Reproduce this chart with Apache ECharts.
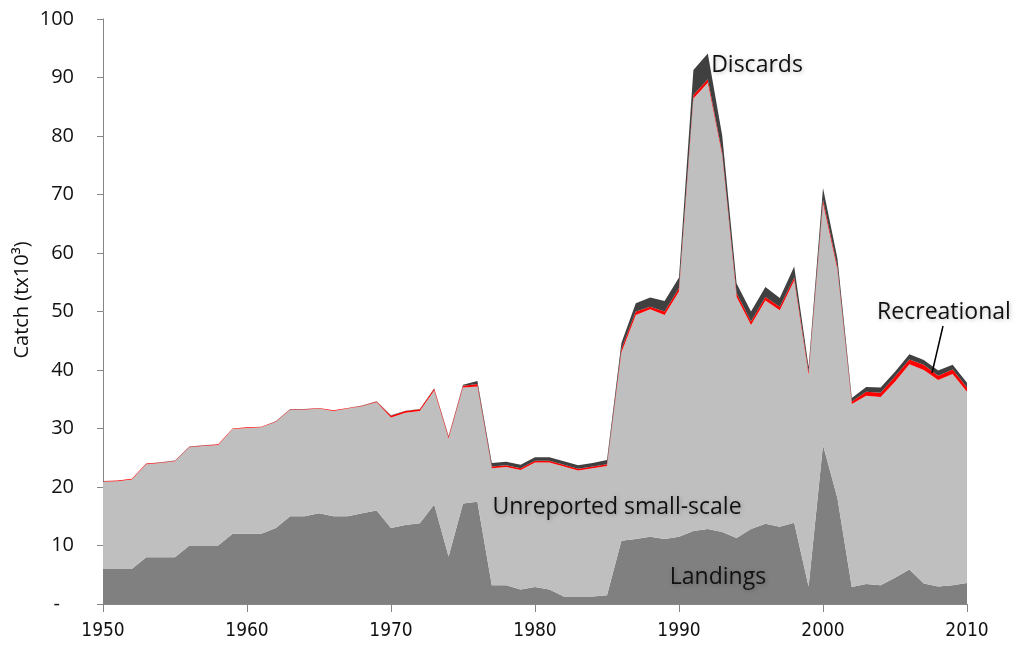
<!DOCTYPE html>
<html><head><meta charset="utf-8">
<script src="https://cdn.jsdelivr.net/npm/echarts@6/dist/echarts.min.js"></script>
<style>html,body{margin:0;padding:0;background:#fff}#c{width:1017px;height:656px}</style>
</head><body><div id="c"></div>
<script>
const years = [];
for (let y = 1950; y <= 2010; y++) years.push(String(y));

const landings = [6.0,6.0,6.0,8.0,8.0,8.0,10.0,10.0,10.0,12.0,
  12.0,12.0,13.0,15.0,15.0,15.5,15.0,15.0,15.5,16.0,
  13.0,13.5,13.8,17.0,8.1,17.2,17.5,3.2,3.2,2.5,
  2.9,2.5,1.3,1.3,1.3,1.5,10.8,11.1,11.5,11.1,
  11.5,12.5,12.8,12.3,11.3,12.8,13.7,13.2,13.9,3.0,
  27.2,18.1,2.9,3.4,3.2,4.5,5.9,3.5,3.0,3.2,3.6];

const unreported = [14.9,15.0,15.3,15.9,16.1,16.4,16.8,17.0,17.2,17.9,
  18.1,18.2,18.1,18.2,18.2,17.9,18.0,18.4,18.3,18.5,
  18.9,19.2,19.2,19.5,20.2,19.8,19.7,20.0,20.2,20.4,
  21.3,21.7,22.2,21.5,21.9,22.1,32.2,38.3,38.9,38.3,
  41.9,73.9,76.3,64.4,41.2,34.9,38.2,37.0,41.4,36.2,
  41.3,39.1,31.3,32.2,32.2,33.5,35.1,36.5,35.3,36.1,32.7];

const recreational = [0.1,0.1,0.1,0.1,0.1,0.1,0.1,0.1,0.1,0.1,
  0.1,0.1,0.1,0.1,0.1,0.1,0.1,0.1,0.1,0.1,
  0.3,0.3,0.3,0.3,0.3,0.3,0.4,0.3,0.3,0.3,
  0.3,0.3,0.3,0.3,0.3,0.3,0.6,0.6,0.4,0.6,
  0.6,0.6,0.6,0.5,0.6,0.6,0.6,0.6,0.5,0.5,
  0.6,0.5,0.4,0.7,0.7,0.9,0.8,0.9,0.7,0.8,0.7];

const discards = [0.02,0.02,0.02,0.02,0.02,0.02,0.02,0.02,0.02,0.02,
  0.02,0.02,0.02,0.02,0.02,0.02,0.02,0.02,0.02,0.05,
  0.05,0.05,0.05,0.1,0.1,0.2,0.5,0.6,0.6,0.6,
  0.6,0.6,0.6,0.6,0.6,0.7,1.0,1.4,1.6,1.8,
  1.8,4.3,4.4,2.9,1.7,1.7,1.7,1.5,1.9,0.8,
  2.0,1.4,0.6,0.8,0.9,0.8,0.9,0.8,0.9,0.8,0.8];

const yTicks = [0,10,20,30,40,50,60,70,80,90,100];

const chart = echarts.init(document.getElementById('c'), null, {renderer:'canvas'});

function area(name, data, color) {
  return {
    name, type:'line', stack:'catch', data, symbol:'none', smooth:false,
    lineStyle:{width:0}, areaStyle:{color, opacity:1}, itemStyle:{color}
  };
}

const font = 'Open Sans';
function label(text, x, y) {
  return {type:'text', x, y, z:100, zlevel:1,
    style:{text, fontSize:23, fontFamily:font, fill:'#111', align:'center', verticalAlign:'middle',
      textShadowColor:'rgba(0,0,0,0.25)', textShadowBlur:4, textShadowOffsetX:1, textShadowOffsetY:1}};
}
chart.setOption({
  animation:false,
  grid:{left:103, right:50, top:19, bottom:52},
  xAxis:{
    type:'category', data:years, boundaryGap:false,
    axisLine:{lineStyle:{color:'#868686', width:1}},
    axisTick:{show:true, interval:9, length:8, lineStyle:{color:'#868686'}},
    axisLabel:{interval:9, margin:18, fontSize:19, fontFamily:'DejaVu Sans Condensed', color:'#111'},
    splitLine:{show:false}
  },
  yAxis:{
    type:'value', min:yTicks[0], max:yTicks[yTicks.length-1], interval:10,
    axisLine:{show:true, lineStyle:{color:'#868686', width:1}},
    axisTick:{show:true, inside:false, length:6, lineStyle:{color:'#868686'}},
    axisLabel:{margin:29, fontSize:20, fontFamily:font, color:'#111',
      formatter:v => v === 0 ? '{d|-}' : String(v),
      rich:{d:{fontSize:20, fontFamily:font, color:'#111', padding:[0,14,0,0]}}},
    splitLine:{show:false}
  },
  series:[
    area('Landings', landings, '#808080'),
    area('Unreported small-scale', unreported, '#bfbfbf'),
    area('Recreational', recreational, '#ff0000'),
    area('Discards', discards, '#404040')
  ],
  graphic:[
    {type:'text', x:22, y:300, rotation:Math.PI/2, style:{text:'Catch (tx10³)', fontSize:20, fontFamily:font, fill:'#111', align:'center', verticalAlign:'middle'}},
    label('Discards', 757, 65),
    label('Recreational', 944, 312),
    label('Unreported small-scale', 617, 507),
    label('Landings', 718, 577),
    {type:'line', z:100, zlevel:1, shape:{x1:943, y1:326, x2:932, y2:373}, style:{stroke:'#000', lineWidth:1.5}}
  ]
});
</script></body></html>
